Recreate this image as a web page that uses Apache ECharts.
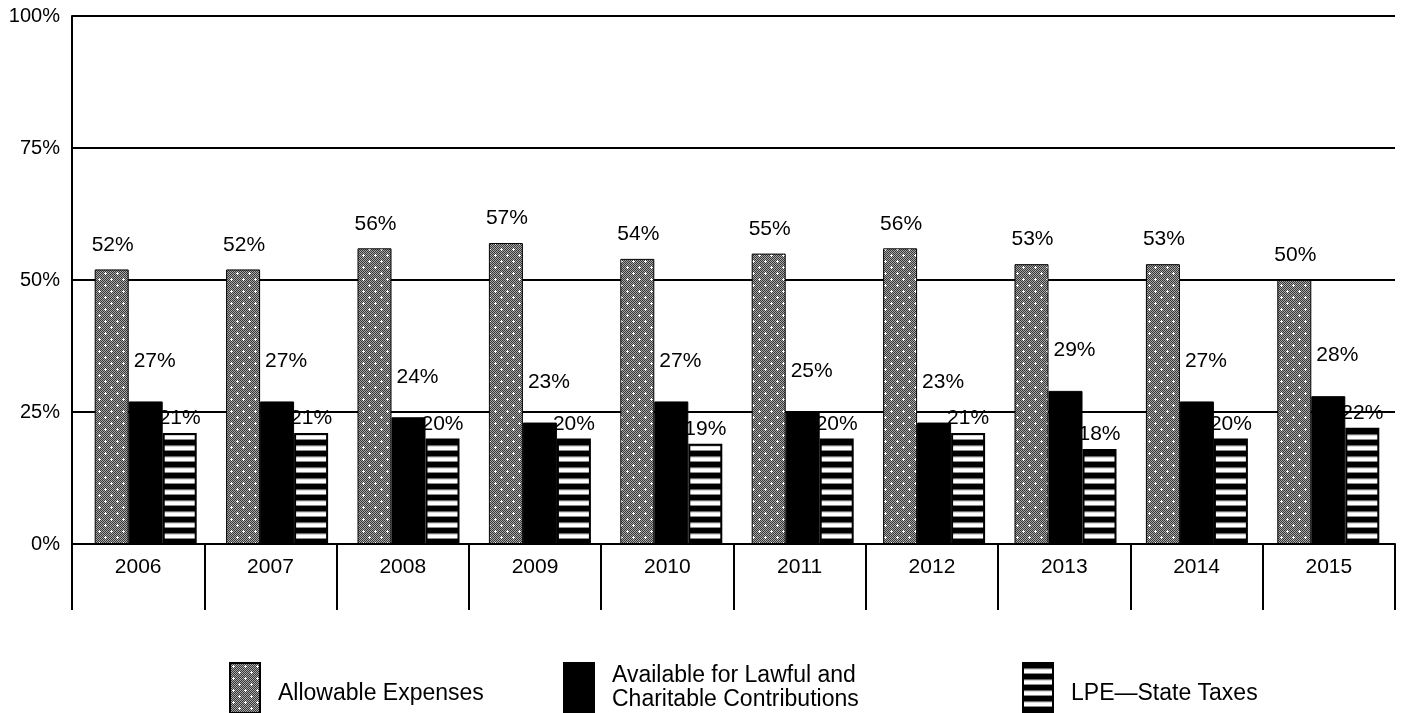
<!DOCTYPE html>
<html>
<head>
<meta charset="utf-8">
<style>
  html, body { margin: 0; padding: 0; background: #fff; }
  #chart { width: 1405px; height: 713px; }
</style>
<script src="https://cdn.jsdelivr.net/npm/echarts@6/dist/echarts.min.js"></script>
</head>
<body>
<div id="chart"></div>
<script>
// Years on the category axis
const years = ['2006', '2007', '2008', '2009', '2010', '2011', '2012', '2013', '2014', '2015'];
// Share of spending per year (percent)
const allowableExpenses = [52, 52, 56, 57, 54, 55, 56, 53, 53, 50];
const lawfulCharitable = [27, 27, 24, 23, 27, 25, 23, 29, 27, 28];
const lpeStateTaxes = [21, 21, 20, 20, 19, 20, 21, 18, 20, 22];
// Value-axis ticks
const yTicks = [0, 25, 50, 75, 100];

const seriesNames = ['Allowable Expenses', 'Available for Lawful and Charitable Contributions', 'LPE\u2014State Taxes'];

// Fine gray stipple with small white crosses
function dottedPattern() {
  const c = document.createElement('canvas');
  c.width = 12; c.height = 12;
  const g = c.getContext('2d');
  for (let y = 0; y < 12; y++) {
    for (let x = 0; x < 12; x++) {
      g.fillStyle = ((x + y) % 2 === 0) ? '#383838' : '#a6a6a6';
      g.fillRect(x, y, 1, 1);
    }
  }
  g.fillStyle = '#ffffff';
  [[3, 3], [9, 9]].forEach(function (p) {
    g.fillRect(p[0] - 1, p[1], 3, 1);
    g.fillRect(p[0], p[1] - 1, 1, 3);
  });
  return c;
}

// Horizontal black and white bands
function stripePattern() {
  const c = document.createElement('canvas');
  c.width = 4; c.height = 11;
  const g = c.getContext('2d');
  const rows = ['#000', '#000', '#000', '#000', '#000', '#6a6a6a', '#d8d8d8', '#ffffff', '#ffffff', '#ffffff', '#8a8a8a'];
  rows.forEach(function (col, i) { g.fillStyle = col; g.fillRect(0, i, 4, 1); });
  return c;
}

const dotFill = { image: dottedPattern(), repeat: 'repeat' };
const stripeFill = { image: stripePattern(), repeat: 'repeat' };

const font = 'Liberation Sans, Arial, sans-serif';
const txt = { fontFamily: font, fontSize: 21, color: '#000' };

function legendAt(name, left, fmt) {
  return {
    data: [{ name: name, icon: 'rect' }],
    left: left,
    top: 662,
    padding: 0,
    orient: 'horizontal',
    itemWidth: 30,
    itemHeight: 50,
    selectedMode: false,
    textStyle: {
      fontFamily: font, fontSize: 23, color: '#000', padding: [0, 0, 0, 13], lineHeight: 24,
      rich: {
        s: { lineHeight: 12, fontSize: 1 },
        t: { fontFamily: font, fontSize: 23, color: '#000', lineHeight: 24 }
      }
    },
    formatter: fmt || function (n) { return '{s|}\n{t|' + n + '}'; }
  };
}

function barLabel(distance, dx) {
  return Object.assign({ show: true, position: 'top', distance: distance, offset: [dx, 0], formatter: '{c}%' }, txt);
}

const chart = echarts.init(document.getElementById('chart'), null, { renderer: 'canvas' });

chart.setOption({
  animation: false,
  backgroundColor: '#ffffff',
  grid: [
    // frame: axes, grid lines, year cells
    { left: 72, right: 10, top: 16, bottom: 169, containLabel: false },
    // bars
    { left: 80, right: 11, top: 16, bottom: 169, containLabel: false }
  ],
  legend: [
    legendAt(seriesNames[0], 229),
    legendAt(seriesNames[1], 563, function () { return 'Available for Lawful and\nCharitable Contributions'; }),
    legendAt(seriesNames[2], 1022)
  ],
  xAxis: [
    {
      type: 'category',
      gridIndex: 0,
      data: years,
      axisLine: { show: true, lineStyle: { color: '#000', width: 2 } },
      axisTick: { show: true, interval: 0, length: 66, lineStyle: { color: '#000', width: 2 } },
      axisLabel: Object.assign({}, txt, { margin: 13, interval: 0 })
    },
    {
      type: 'category',
      gridIndex: 1,
      data: years,
      show: false
    }
  ],
  yAxis: [
    {
      type: 'value',
      gridIndex: 0,
      min: yTicks[0],
      max: yTicks[yTicks.length - 1],
      interval: yTicks[1] - yTicks[0],
      axisLine: { show: true, lineStyle: { color: '#000', width: 2 } },
      axisTick: { show: false },
      axisLabel: Object.assign({}, txt, { fontSize: 20, margin: 12, formatter: '{value}%' }),
      splitLine: { show: true, lineStyle: { color: '#000', width: 2 } }
    },
    {
      type: 'value',
      gridIndex: 1,
      min: yTicks[0],
      max: yTicks[yTicks.length - 1],
      show: false,
      splitLine: { show: false }
    }
  ],
  series: [
    {
      name: seriesNames[0],
      type: 'bar',
      xAxisIndex: 1,
      yAxisIndex: 1,
      data: allowableExpenses,
      barWidth: 34,
      barGap: '0%',
      itemStyle: { color: dotFill, borderColor: '#000', borderWidth: 1 },
      label: barLabel(14, 1)
    },
    {
      name: seriesNames[1],
      type: 'bar',
      xAxisIndex: 1,
      yAxisIndex: 1,
      data: lawfulCharitable,
      barWidth: 34,
      barGap: '0%',
      itemStyle: { color: '#000', borderColor: '#000', borderWidth: 1 },
      label: barLabel(30, 9)
    },
    {
      name: seriesNames[2],
      type: 'bar',
      xAxisIndex: 1,
      yAxisIndex: 1,
      data: lpeStateTaxes,
      barWidth: 34,
      barGap: '0%',
      itemStyle: { color: stripeFill, borderColor: '#000', borderWidth: 2 },
      label: barLabel(4, 0)
    }
  ]
});
</script>
</body>
</html>
